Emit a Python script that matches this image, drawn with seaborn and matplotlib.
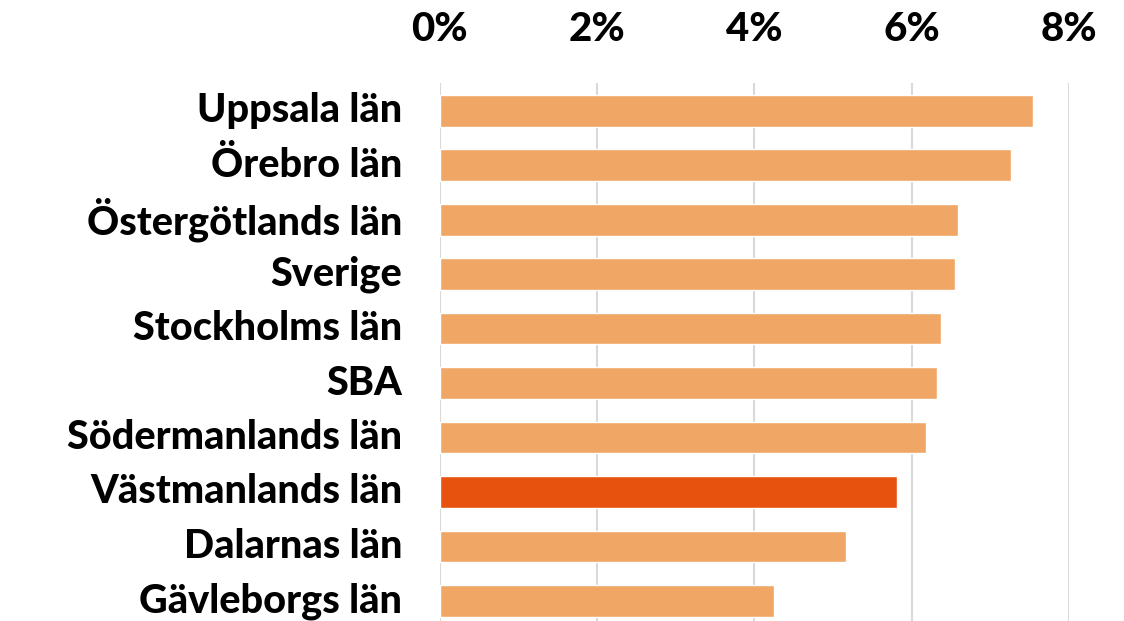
import pandas as pd
import matplotlib.pyplot as plt
import seaborn as sns

# data (percent)
regions = ["Uppsala län", "Örebro län", "Östergötlands län", "Sverige",
           "Stockholms län", "SBA", "Södermanlands län", "Västmanlands län",
           "Dalarnas län", "Gävleborgs län"]
share = [7.55, 7.26, 6.59, 6.55, 6.37, 6.32, 6.19, 5.81, 5.17, 4.25]
highlight = "Västmanlands län"
xticks = [0, 2, 4, 6, 8]

light = "#F0A665"
dark = "#E8520F"

sns.set_theme(style="white")
plt.rcParams['font.family'] = ['Lato', 'DejaVu Sans']

df = pd.DataFrame({"region": regions, "share": share})
palette = {r: (dark if r == highlight else light) for r in regions}

fig = plt.figure(figsize=(11.24, 6.21), dpi=100)
ax = fig.add_axes([0.3912, 0.0, 0.9509 - 0.3912, 0.8663])

sns.barplot(data=df, x="share", y="region", hue="region", palette=palette,
            order=regions, width=0.583, legend=False, ax=ax, saturation=1)

ax.set_xlim(0, 8)
ax.set_ylim(len(regions) - 1 + 0.37, -0.51)
ax.set_xticks(xticks)
ax.set_xticklabels([f"{t}%" for t in xticks])
ax.xaxis.tick_top()
ax.grid(axis="x", color="#D9D9D9", linewidth=1.5)
ax.set_axisbelow(True)
for s in ax.spines.values():
    s.set_visible(False)
ax.set_xlabel("")
ax.set_ylabel("")
ax.tick_params(axis="x", length=0, pad=25, labelsize=29)
ax.tick_params(axis="y", length=0, pad=27, labelsize=28.5)
for lab in ax.get_xticklabels():
    lab.set_fontweight("black")
    lab.set_color("black")
for lab in ax.get_yticklabels():
    lab.set_fontweight("black")
    lab.set_color("black")
    lab.set_verticalalignment("center")

fig.savefig("out.png", dpi=100)
